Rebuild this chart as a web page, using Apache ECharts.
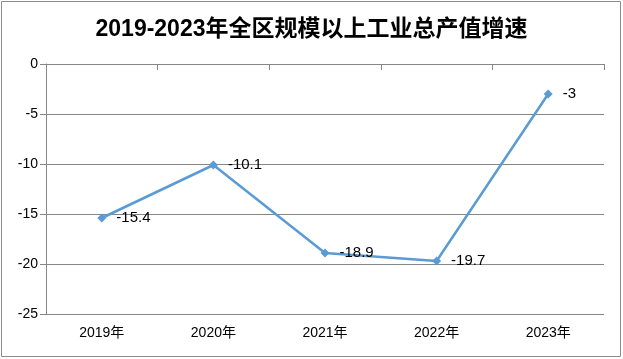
<!DOCTYPE html>
<html><head><meta charset="utf-8">
<script src="https://cdn.jsdelivr.net/npm/echarts@6/dist/echarts.min.js"></script>
<style>html,body{margin:0;padding:0;background:#fff}#c{width:623px;height:359px}</style>
</head><body><div id="c"></div>
<script>
const title = '2019-2023年全区规模以上工业总产值增速';
const categories = ['2019年','2020年','2021年','2022年','2023年'];
const growth = [-15.4, -10.1, -18.9, -19.7, -3];
const yTicks = [-25, -20, -15, -10, -5, 0];

const chart = echarts.init(document.getElementById('c'), null, {renderer:'canvas'});
const font = '"Liberation Sans", "Noto Sans CJK SC", sans-serif';
chart.setOption({
  backgroundColor:'#fff',
  animation:false,
  title:{text:title,left:'center',top:13,textStyle:{fontFamily:'"Liberation Sans","Noto Sans CJK SC",sans-serif',fontWeight:'bold',fontSize:23,color:'#000'}},
  graphic:[{type:'rect',shape:{x:1.5,y:1.5,width:619,height:355},style:{fill:null,stroke:'#8c8c8c',lineWidth:1},z:-1}],
  grid:{left:46,right:19,top:64,bottom:45},
  xAxis:[
    {type:'category',data:categories,position:'bottom',boundaryGap:true,
     axisLine:{show:false},axisTick:{show:false},
     axisLabel:{color:'#000',fontSize:14,fontFamily:font,margin:12},splitLine:{show:false}},
    {type:'category',data:categories,position:'top',boundaryGap:true,
     axisLine:{show:true,lineStyle:{color:'#868686',width:1}},
     axisTick:{show:true,inside:true,length:6,lineStyle:{color:'#868686'}},
     axisLabel:{show:false},splitLine:{show:false}}
  ],
  yAxis:{type:'value',min:yTicks[0],max:yTicks[yTicks.length-1],interval:5,
    axisLine:{show:true,lineStyle:{color:'#868686'}},
    axisTick:{show:true,length:6,lineStyle:{color:'#868686'}},
    axisLabel:{color:'#000',fontSize:14,fontFamily:font,margin:8},
    splitLine:{show:true,lineStyle:{color:'#868686',width:1}}},
  series:[{type:'line',data:growth,xAxisIndex:0,
    symbol:'diamond',symbolSize:9,
    lineStyle:{color:'#5b9bd5',width:2.5},
    itemStyle:{color:'#5b9bd5'},
    label:{show:true,position:'right',distance:10,color:'#000',fontSize:15,fontFamily:font}}]
});
</script></body></html>
